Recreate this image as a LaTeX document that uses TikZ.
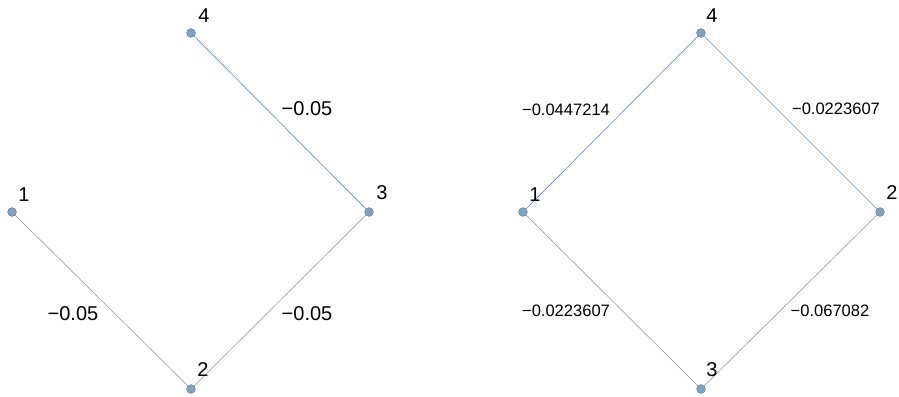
\documentclass[tikz,border=0pt]{standalone}
\usepackage{fontspec}
\setmainfont{Liberation Sans}
\usetikzlibrary{positioning}
\definecolor{vertexBlue}{RGB}{128,162,192}
\definecolor{vertexRim}{RGB}{105,125,145}
\definecolor{edgeGray}{RGB}{160,160,160}
\definecolor{edgeBlue}{RGB}{105,140,205}

\begin{document}
\begin{tikzpicture}[x=0.75pt, y=-0.75pt,
  vert/.style={circle, draw=vertexRim, fill=vertexBlue, line width=0.35pt,
               minimum size=6.6pt, inner sep=0pt},
  vlabel/.style={font=\fontsize{15}{17}\selectfont, inner sep=0pt},
  bigw/.style={font=\fontsize{15}{17}\selectfont, inner sep=0pt},
  smallw/.style={font=\fontsize{12.4}{14}\selectfont, inner sep=0pt},
  grayedge/.style={edgeGray, line width=0.5pt},
  blueedge/.style={edgeBlue, line width=0.5pt},
]
\useasboundingbox (0,0) rectangle (899,396);

%%──────────────────────────────────────────────────────────────────
%% LEFT GRAPH
%%──────────────────────────────────────────────────────────────────
\node[vert] (a1) at (12,212) {};
\node[vert] (a2) at (191,389) {};
\node[vert] (a3) at (369,212) {};
\node[vert] (a4) at (191,33) {};

\draw[grayedge] (a1) -- (a2);
\draw[grayedge] (a2) -- (a3);
\draw[blueedge] (a3) -- (a4);

% vertex labels
\node[vlabel] (la1) at (24,195) {1};
\node[vlabel] (la2) at (203,370) {2};
\node[vlabel] (la3) at (382,193) {3};
\node[vlabel] (la4) at (204,16) {4};

% weights
\node[bigw] (wa34) at (307,109) {−0.05};
\node[bigw] (wa12) at (73,314) {−0.05};
\node[bigw] (wa23) at (307,314) {−0.05};

%%──────────────────────────────────────────────────────────────────
%% RIGHT GRAPH
%%──────────────────────────────────────────────────────────────────
\node[vert] (b1) at (523,212) {};
\node[vert] (b2) at (880,212) {};
\node[vert] (b3) at (701,389) {};
\node[vert] (b4) at (701,33) {};

\draw[blueedge] (b1) -- (b4);
\draw[blueedge] (b4) -- (b2);
\draw[grayedge] (b1) -- (b3);
\draw[grayedge] (b3) -- (b2);

% vertex labels
\node[vlabel] (lb1) at (535,195) {1};
\node[vlabel] (lb2) at (892,193) {2};
\node[vlabel] (lb3) at (712,370) {3};
\node[vlabel] (lb4) at (712,16) {4};

% weights
\node[smallw] (wb14) at (566,110) {−0.0447214};
\node[smallw] (wb42) at (836,109) {−0.0223607};
\node[smallw] (wb13) at (566,311) {−0.0223607};
\node[smallw] (wb32) at (830,311) {−0.067082};

\end{tikzpicture}
\end{document}
